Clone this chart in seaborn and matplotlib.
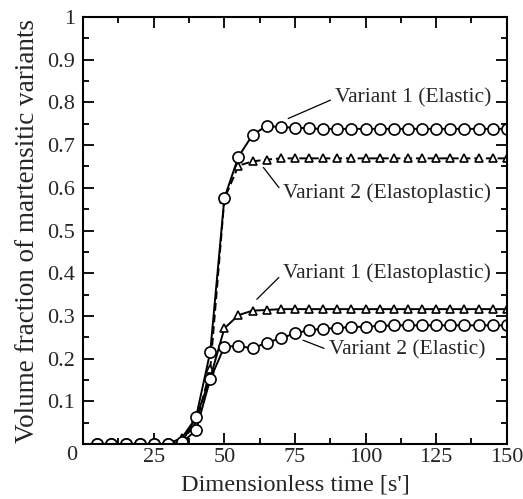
"""
Fracción volumétrica de variantes martensíticas vs tiempo adimensional.
"""

import numpy as np
import matplotlib
matplotlib.use("Agg")
import matplotlib.pyplot as plt
import seaborn as sns  # type: ignore
from matplotlib.ticker import MultipleLocator

# tiempo adimensional
time = list(range(5, 155, 5))

# Variant 1 (Elastic)
v1_elastic = [0, 0, 0, 0, 0, 0, 0.004, 0.064, 0.216, 0.576, 0.673, 0.724, 0.745,
              0.742, 0.741, 0.739, 0.738, 0.738, 0.738, 0.738, 0.738, 0.738,
              0.738, 0.738, 0.738, 0.738, 0.738, 0.738, 0.738, 0.738]
# Variant 2 (Elastic)
v2_elastic = [0, 0, 0, 0, 0, 0, 0.003, 0.033, 0.152, 0.228, 0.230, 0.224, 0.2375,
              0.248, 0.259, 0.267, 0.270, 0.272, 0.274, 0.275, 0.2766, 0.278,
              0.278, 0.278, 0.278, 0.278, 0.278, 0.278, 0.278, 0.278]
# Variant 1 (Elastoplastic)
v1_plastic = [0, 0, 0, 0, 0, 0, 0.015, 0.062, 0.155, 0.271, 0.302, 0.3125, 0.314,
              0.316, 0.316, 0.316, 0.316, 0.316, 0.316, 0.316, 0.316, 0.316,
              0.316, 0.316, 0.316, 0.316, 0.316, 0.316, 0.316, 0.316]
# Variant 2 (Elastoplastic)
v2_plastic = [0, 0, 0, 0, 0, 0, 0.012, 0.045, 0.175, 0.574, 0.652, 0.662, 0.666,
              0.669, 0.669, 0.669, 0.669, 0.669, 0.669, 0.669, 0.669, 0.669,
              0.669, 0.669, 0.669, 0.669, 0.669, 0.669, 0.669, 0.669]

labels = ["Variant 1 (Elastic)", "Variant 2 (Elastoplastic)",
          "Variant 1 (Elastoplastic)", "Variant 2 (Elastic)"]


def main():
    sns.set_style("ticks")
    plt.rcParams["font.family"] = ["Liberation Serif", "DejaVu Serif"]

    fig = plt.figure(figsize=(5.23, 4.99), dpi=100)
    ax = fig.add_axes([0.159, 0.110, 0.810, 0.856])

    common = dict(color="black", linewidth=1.4, markerfacecolor="white",
                  markeredgecolor="black", markeredgewidth=1.2)

    sns.lineplot(x=time, y=v2_plastic, ax=ax, marker="^", markersize=5.5,
                 linestyle=(0, (4, 2)), **common)
    sns.lineplot(x=time, y=v1_plastic, ax=ax, marker="^", markersize=5.5,
                 linestyle="-", **common)
    sns.lineplot(x=time, y=v2_elastic, ax=ax, marker="o", markersize=8,
                 linestyle="-", **common)
    sns.lineplot(x=time, y=v1_elastic, ax=ax, marker="o", markersize=8,
                 linestyle="-", **common)

    ax.set_xlim(0, 150)
    ax.set_ylim(0, 1)
    ax.xaxis.set_minor_locator(MultipleLocator(12.5))
    ax.yaxis.set_minor_locator(MultipleLocator(0.05))
    ax.set_xticks(np.arange(0, 151, 25))
    ax.set_xticklabels(["", "25", "50", "75", "100", "125", "150"])
    ax.set_yticks(np.round(np.arange(0, 1.01, 0.1), 1))
    ax.set_yticklabels([""] + ["0.1", "0.2", "0.3", "0.4", "0.5",
                               "0.6", "0.7", "0.8", "0.9", "1"])
    ax.text(-0.026, -0.026, "0", transform=ax.transAxes, ha="center",
            va="center", fontsize=16)

    ax.tick_params(which="both", direction="in", top=True, right=True,
                   width=1.3, labelsize=16, color="black")
    ax.tick_params(which="major", length=8)
    ax.tick_params(axis="x", which="major", pad=3)
    ax.tick_params(axis="y", which="major", pad=6)
    ax.tick_params(which="minor", length=4)
    for sp in ax.spines.values():
        sp.set_linewidth(1.5)
        sp.set_color("black")

    ax.set_xlabel("Dimensionless time [s']", fontsize=17.5, labelpad=5)
    ax.set_ylabel("Volume fraction of martensitic variants", fontsize=19.5,
                  labelpad=5)

    # etiquetas con líneas guía
    notes = [
        (labels[0], (89.2, 0.810), (70.8, 0.757)),
        (labels[1], (70.8, 0.588), (62.6, 0.658)),
        (labels[2], (70.8, 0.400), (60.1, 0.330)),
        (labels[3], (86.9, 0.220), (76.0, 0.248)),
    ]
    for txt, pos, tip in notes:
        ax.annotate(txt, xy=tip, xytext=pos, ha="left", va="center",
                    fontsize=15.5,
                    arrowprops=dict(arrowstyle="-", color="black", lw=0.9,
                                    relpos=(0, 0.5), shrinkA=1, shrinkB=4))

    fig.savefig("out.png", dpi=100)


if __name__ == "__main__":
    main()
